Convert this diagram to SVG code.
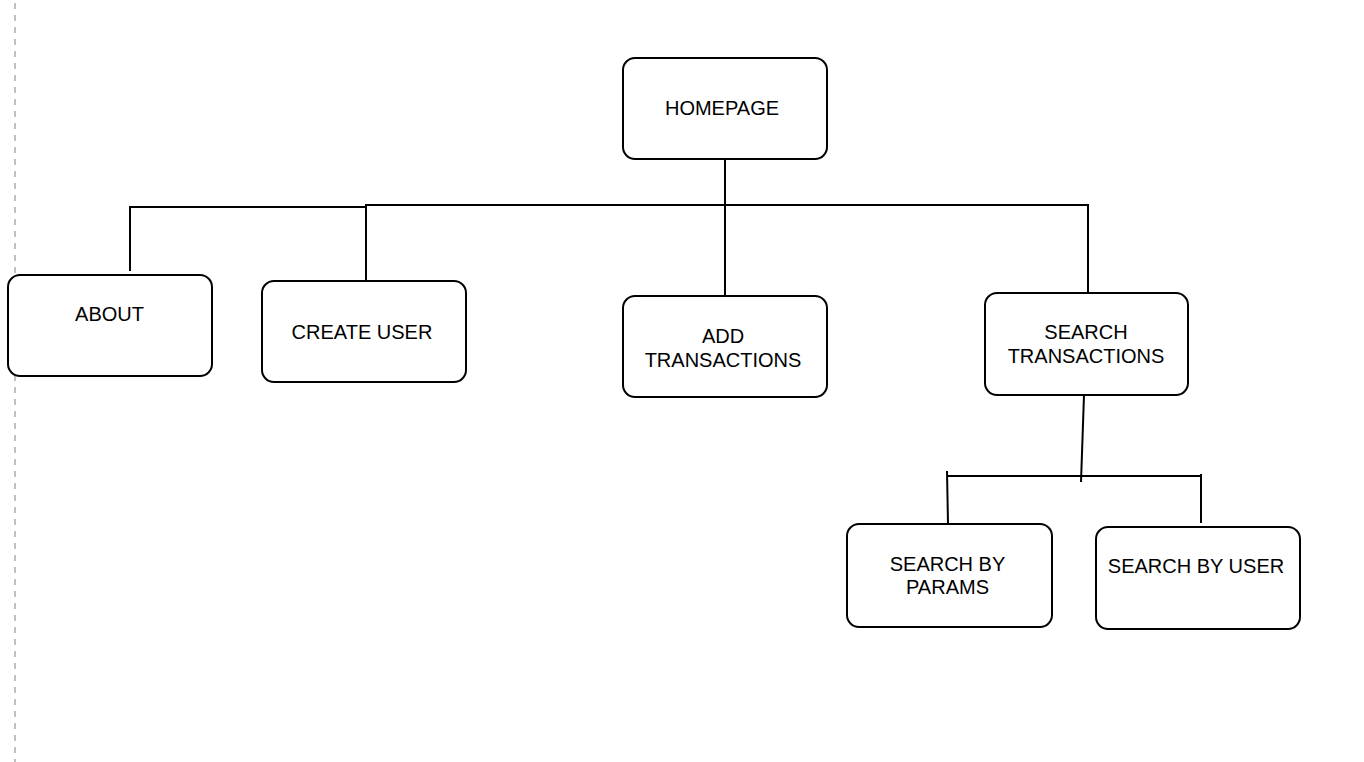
<svg xmlns="http://www.w3.org/2000/svg" width="1364" height="762" viewBox="0 0 1364 762">
<style>
.box{fill:#fff;stroke:#000;stroke-width:2}
.ln{fill:none;stroke:#000;stroke-width:2}
text{font-family:"Liberation Sans",Arial,sans-serif;font-size:20px;fill:#000;text-anchor:middle}
</style>
<rect width="1364" height="762" fill="#fff"/>
<line x1="15" y1="3" x2="15" y2="762" stroke="#c0c0c0" stroke-width="2" stroke-dasharray="6 6"/>
<g id="connectors">
<line class="ln" x1="725" y1="160" x2="725" y2="296"/>
<polyline class="ln" points="130,271 130,207 366,207"/>
<line class="ln" x1="365" y1="205" x2="1088" y2="205"/>
<line class="ln" x1="366" y1="205" x2="366" y2="281"/>
<line class="ln" x1="1088" y1="204" x2="1088" y2="293"/>
<line class="ln" x1="1084" y1="395" x2="1081" y2="482"/>
<line class="ln" x1="947" y1="476" x2="1202" y2="476"/>
<line class="ln" x1="947" y1="471" x2="948" y2="524"/>
<line class="ln" x1="1201" y1="474" x2="1201" y2="523"/>
</g>
<g id="homepage"><rect class="box" x="623" y="58" width="204" height="101" rx="12"/><text x="722" y="115">HOMEPAGE</text></g>
<g id="about"><rect class="box" x="8" y="275" width="204" height="101" rx="12"/><text x="109.5" y="321">ABOUT</text></g>
<g id="create-user"><rect class="box" x="262" y="281" width="204" height="101" rx="12"/><text x="362" y="339">CREATE USER</text></g>
<g id="add-transactions"><rect class="box" x="623" y="296" width="204" height="101" rx="12"/><text x="723" y="343">ADD</text><text x="723" y="367">TRANSACTIONS</text></g>
<g id="search-transactions"><rect class="box" x="985" y="293" width="203" height="102" rx="12"/><text x="1086" y="339">SEARCH</text><text x="1086" y="363">TRANSACTIONS</text></g>
<g id="search-by-params"><rect class="box" x="847" y="524" width="205" height="103" rx="12"/><text x="947.5" y="571">SEARCH BY</text><text x="947.5" y="594">PARAMS</text></g>
<g id="search-by-user"><rect class="box" x="1096" y="527" width="204" height="102" rx="12"/><text x="1196" y="573">SEARCH BY USER</text></g>
</svg>
